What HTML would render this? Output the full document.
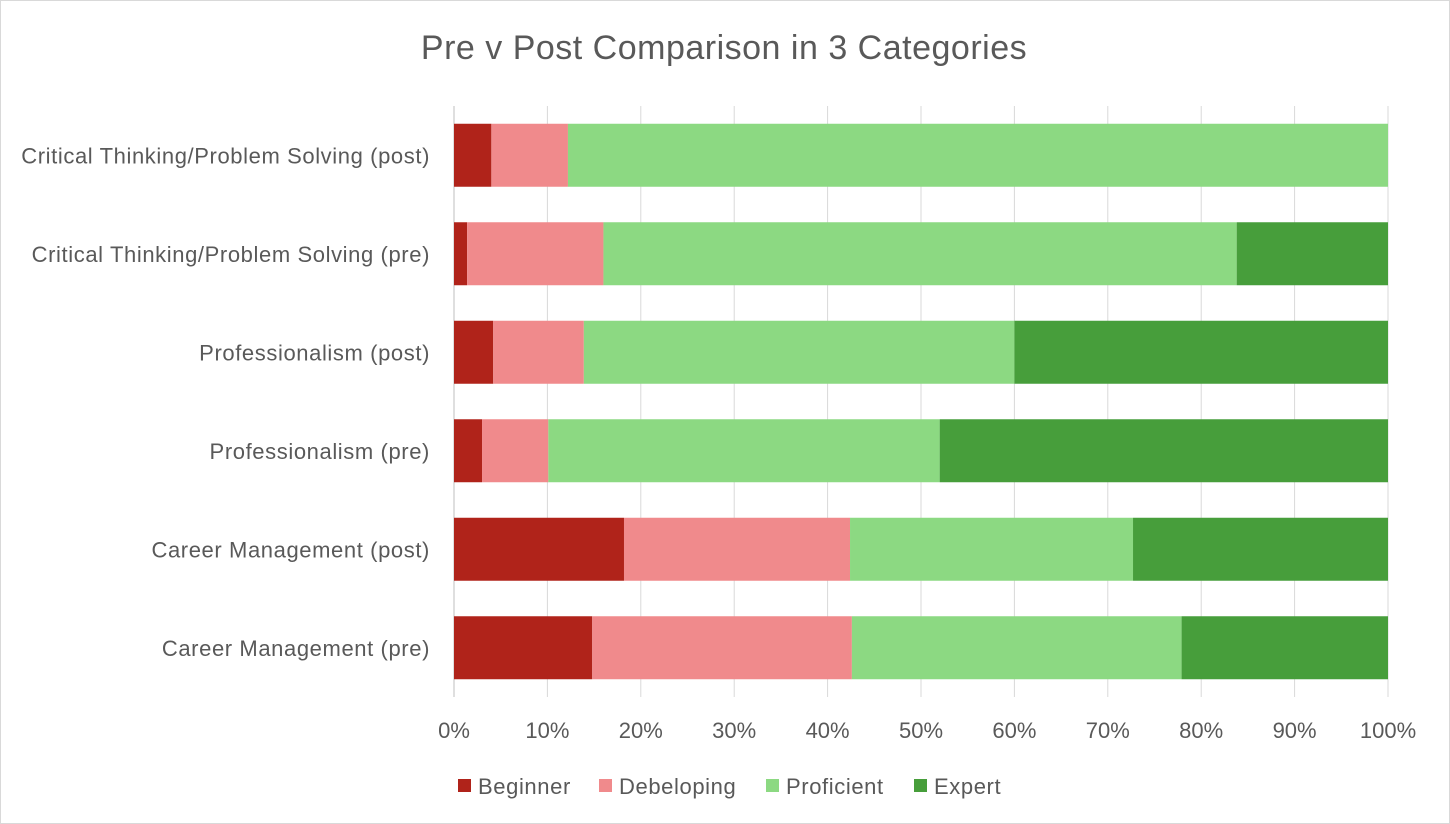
<!DOCTYPE html>
<html><head><meta charset="utf-8"><style>
body{margin:0;background:#fff;}
svg{display:block;font-family:"Liberation Sans",sans-serif;}
</style></head><body>
<svg id="c" width="1450" height="824">
<rect x="0.5" y="0.5" width="1449" height="823" fill="#fff" stroke="#d9d9d9"/>
<text x="724" y="59" text-anchor="middle" font-size="34" letter-spacing="0.5" fill="#595959">Pre v Post Comparison in 3 Categories</text>
<g id="grid"></g><g id="bars"></g><g id="ylab"></g><g id="xlab"></g><g id="legend"></g>
</svg>
<script>
const categories=["Critical Thinking/Problem Solving (post)","Critical Thinking/Problem Solving (pre)","Professionalism (post)","Professionalism (pre)","Career Management (post)","Career Management (pre)"];
const seriesNames=["Beginner","Debeloping","Proficient","Expert"];
const beginner=[4.0,1.4,4.2,3.0,18.2,14.8];
const developing=[8.2,14.6,9.7,7.1,24.2,27.8];
const proficient=[87.8,67.8,46.1,41.9,30.3,35.3];
const expert=[0,16.2,40.0,48.0,27.3,22.1];
const tickLabels=["0%","10%","20%","30%","40%","50%","60%","70%","80%","90%","100%"];
const colors=["#b0231a","#f08a8c","#8cd982","#479e3b"];
const NS="http://www.w3.org/2000/svg";
const x0=454,x1=1388,yTop=106,rowH=98.5,barH=63;
const xs=v=>x0+(x1-x0)*v/100;
const yc=i=>yTop+rowH*(i+0.5);
function mk(t,a,p){const e=document.createElementNS(NS,t);for(const k in a)e.setAttribute(k,a[k]);p.appendChild(e);return e;}
const grid=document.getElementById('grid'),xl=document.getElementById('xlab');
tickLabels.forEach((t,i)=>{const x=xs(i*10);
const l=mk('line',{x1:x,x2:x,y1:yTop,y2:yTop+rowH*6,stroke:i==0?'#bfbfbf':'#d9d9d9','stroke-width':1},grid);


const tx=mk('text',{x:x,y:738,'text-anchor':'middle','font-size':22,fill:'#595959'},xl);tx.textContent=t;


});
const series=[beginner,developing,proficient,expert];
const bars=document.getElementById('bars'),yl=document.getElementById('ylab');
categories.forEach((c,i)=>{let acc=0;
series.forEach((s,j)=>{const v=s[i];if(v>0){const r=mk('rect',{x:xs(acc),y:yc(i)-barH/2,width:xs(acc+v)-xs(acc),height:barH,fill:colors[j]},bars);

}
acc+=v;});
const t=mk('text',{x:430,y:yc(i)+8,'text-anchor':'end','font-size':22,'letter-spacing':0.6,fill:'#595959'},yl);t.textContent=c;


});
const lg=document.getElementById('legend');const lx=[458,599,766,914];
seriesNames.forEach((n,j)=>{const g=mk('g',{},lg);


mk('rect',{x:lx[j],y:779,width:13,height:13,fill:colors[j]},g);
const t=mk('text',{x:lx[j]+20,y:794,'font-size':22,'letter-spacing':0.6,fill:'#595959'},g);t.textContent=n;});
</script>
</body></html>
